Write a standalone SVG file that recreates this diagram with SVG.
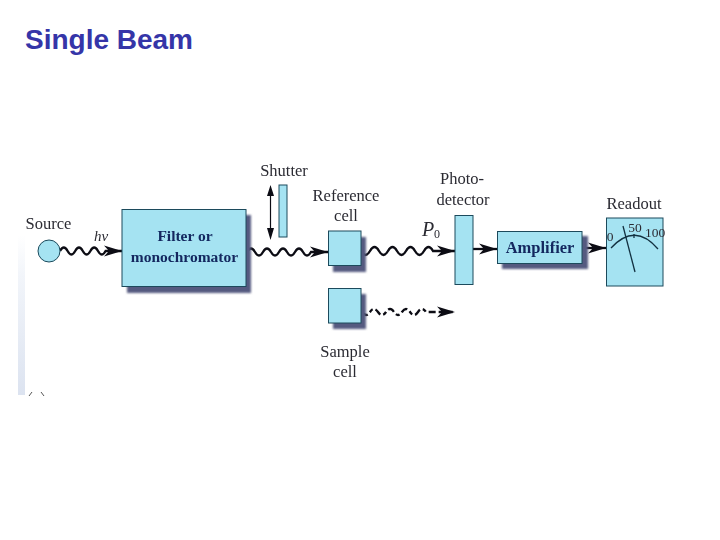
<svg xmlns="http://www.w3.org/2000/svg" width="720" height="540" viewBox="0 0 720 540">
<defs>
<linearGradient id="stripV" x1="0" x2="0" y1="0" y2="1"><stop offset="0" stop-color="#ffffff"/><stop offset="0.25" stop-color="#f2f5fa"/><stop offset="1" stop-color="#dce3f0"/></linearGradient>
<filter id="blur" x="-20%" y="-20%" width="140%" height="140%"><feGaussianBlur stdDeviation="1.300"/></filter>
<filter id="soft" x="-5%" y="-20%" width="110%" height="140%"><feGaussianBlur stdDeviation="0.3"/></filter>
<marker id="head" markerUnits="userSpaceOnUse" markerWidth="20" markerHeight="14" refX="18" refY="7" orient="auto"><path d="M0 1.500 L18 7 L0 12.500 L5 7 Z" fill="#0c0c14"/></marker>
</defs>
<style>
.box{fill:#a5e3f2;stroke:#1c4a5c;stroke-width:1}
.shadow{fill:#545a80;filter:url(#blur)}
.lbl{font-family:"Liberation Serif",serif;font-size:16.500px;fill:#2b2b33;text-anchor:middle}
.inner{font-family:"Liberation Serif",serif;font-size:15.500px;font-weight:bold;fill:#12285e;text-anchor:middle}
.wave{fill:none;stroke:#0c0c14;stroke-width:2.300}
.ink{fill:none;stroke:#123040;stroke-width:1.300}
.num{font-family:"Liberation Serif",serif;font-size:13.500px;fill:#2b2b33;text-anchor:middle}
text{filter:url(#soft)}
</style>
<rect width="720" height="540" fill="#ffffff"/>
<rect x="18" y="235" width="7" height="160" fill="url(#stripV)"/>
<path d="M29 396 L32 392 M41 392 L44 396" stroke="#555" stroke-width="1" fill="none"/>
<text x="25" y="49" font-family="'Liberation Sans',Arial,sans-serif" font-size="28" font-weight="bold" fill="#3535a8" style="filter:none" textLength="168">Single Beam</text>

<g id="connectors">
<path class="wave" marker-end="url(#head)" d="M60 251 q3.800 -7 7.600 0 t7.600 0 t7.600 0 t7.600 0 t7.600 0 t7.600 0 L122 251"/>
<path class="wave" marker-end="url(#head)" d="M247 252 q4 -7 8 0 t8 0 t8 0 t8 0 t8 0 t8 0 t8 0 t8 0 L328 252"/>
<path class="wave" stroke-width="2.800" marker-end="url(#head)" d="M361 251 q4.500 8 9 0 t9 0 t9 0 t9 0 t9 0 t9 0 t9 0 t9 0 L455 251"/>
<path class="wave" stroke-dasharray="7 3 4 3" marker-end="url(#head)" d="M362 312 q4 6 8 0 t8 0 t8 0 t8 0 t8 0 t8 0 t8 0 t8 0 L455 312"/>
<path class="wave" stroke-width="3" marker-end="url(#head)" d="M473 249 L497 249"/>
<path class="wave" stroke-width="3.500" marker-end="url(#head)" d="M582 248 L606 248"/>
<path d="M270.500 190 V236" stroke="#0c0c14" stroke-width="1.200" fill="none"/>
<path d="M270.500 185 L274 196 L267 196 Z M270.500 240 L267 228 L274 228 Z" fill="#0c0c14"/>
</g>

<g id="source"><circle class="box" cx="49" cy="251" r="11"/><text class="lbl" x="48.500" y="229">Source</text><text x="101" y="241" font-family="'Liberation Serif',serif" font-size="15" font-style="italic" fill="#2b2b33" text-anchor="middle">hv</text></g>
<g id="filter"><rect class="shadow" x="127" y="215" width="124" height="78"/><rect class="box" x="122" y="209.500" width="124" height="77"/><text class="inner" x="185" y="241">Filter or</text><text class="inner" x="184.500" y="262">monochromator</text></g>
<g id="shutter"><rect class="box" x="279" y="185" width="8" height="52"/><text class="lbl" x="284" y="176">Shutter</text></g>
<g id="reference-cell"><rect class="shadow" x="333" y="237" width="33" height="35"/><rect class="box" x="328.500" y="231" width="32.500" height="34.500"/><text class="lbl" x="346" y="201">Reference</text><text class="lbl" x="346" y="221">cell</text></g>
<g id="sample-cell"><rect class="shadow" x="333" y="294" width="33" height="35"/><rect class="box" x="328.500" y="288.500" width="32.500" height="34.500"/><text class="lbl" x="345" y="357">Sample</text><text class="lbl" x="345" y="377">cell</text></g>
<g id="p0"><text x="422" y="236" font-family="'Liberation Serif',serif" font-size="20" font-style="italic" fill="#2b2b33">P</text><text x="434" y="238" font-family="'Liberation Serif',serif" font-size="12" fill="#2b2b33">0</text></g>
<g id="photodetector"><rect class="box" x="455" y="215.500" width="18" height="69"/><text class="lbl" x="462" y="184">Photo-</text><text class="lbl" x="463" y="205">detector</text></g>
<g id="amplifier"><rect class="shadow" x="502" y="236" width="86" height="33"/><rect class="box" x="497.500" y="231.500" width="84.500" height="32"/><text class="inner" x="540" y="253" style="font-size:16.500px">Amplifier</text></g>
<g id="readout"><rect class="box" x="606.500" y="218" width="56.500" height="68"/><text class="lbl" x="634" y="209">Readout</text>
<path class="ink" stroke-width="1.600" d="M611 248 Q635 222 658 249"/>
<path class="ink" stroke-width="1.500" d="M623 226 L635 272"/>
<path class="ink" d="M634 238 V234"/>
<text class="num" x="610" y="241">0</text><text class="num" x="635" y="232">50</text><text class="num" x="655" y="237">100</text></g>
</svg>
